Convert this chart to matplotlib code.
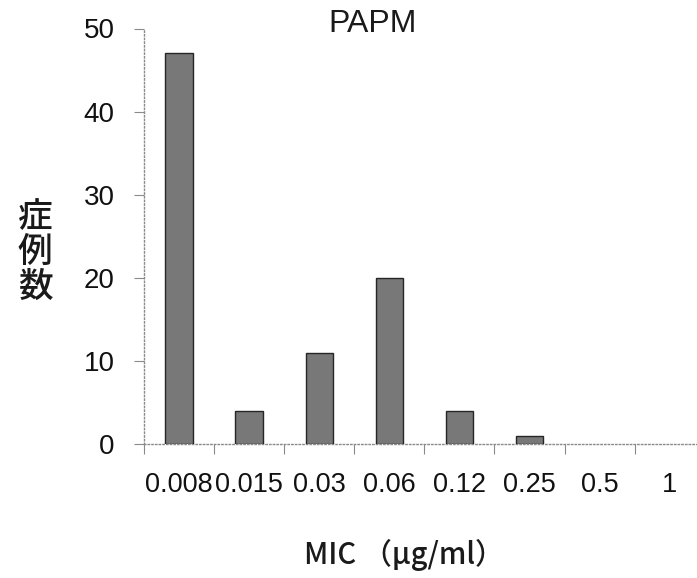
import matplotlib
matplotlib.use("Agg")
import matplotlib.pyplot as plt
import numpy as np
from matplotlib.ticker import MultipleLocator, FixedLocator

mic_labels = ["0.008", "0.015", "0.03", "0.06", "0.12", "0.25", "0.5", "1"]
cases = [47, 4, 11, 20, 4, 1, 0, 0]

sans = ["Liberation Sans", "DejaVu Sans"]
cjk = ["Noto Sans CJK JP", "DejaVu Sans"]

fig = plt.figure(figsize=(6.97, 5.78), dpi=100)
ax = fig.add_axes([144 / 697, 134 / 578, 553 / 697, 415.5 / 578])

x = np.arange(len(cases))
# empty classes get no outline
edges = ["#262626" if c > 0 else "none" for c in cases]
ax.bar(x, cases, width=0.39, color="#787878", edgecolor=edges, linewidth=1.0, zorder=3)

ax.set_xlim(-0.5, 7.39)
ax.set_ylim(0, 50)

# thin dotted axes, no frame on top/right
for side in ["top", "right"]:
    ax.spines[side].set_visible(False)
for side in ["left", "bottom"]:
    ax.spines[side].set_linestyle(":")
    ax.spines[side].set_color("#8a8a8a")
    ax.spines[side].set_linewidth(1.0)

ax.yaxis.set_major_locator(MultipleLocator(10))
ax.tick_params(axis="y", length=7, width=0.8, color="#8a8a8a", pad=14)
for lab in ax.get_yticklabels():
    lab.set_fontfamily(sans)
    lab.set_fontsize(20)
    lab.set_color("#111111")

ax.set_xticks(x)
ax.set_xticklabels(mic_labels, fontfamily=sans, fontsize=19.5, color="#111111")
ax.tick_params(axis="x", which="major", length=0, pad=20)
ax.xaxis.set_minor_locator(FixedLocator(np.arange(-0.5, 7.0, 1.0)))
ax.tick_params(axis="x", which="minor", length=7, width=0.8, color="#8a8a8a")

fig.text(373 / 697, 1 - 24 / 578, "PAPM", ha="center", va="center",
         fontsize=23, fontfamily=sans, color="#1a1a1a")
fig.text(35 / 697, 1 - 252 / 578, "症\n例\n数", ha="center", va="center",
         fontsize=25, fontfamily=cjk, fontweight="medium", linespacing=0.97, color="#1a1a1a")
fig.text(404 / 697, 1 - 555 / 578, "MIC （μg/ml）", ha="center", va="center",
         fontsize=21, fontfamily=cjk, fontweight="medium", color="#1a1a1a")

fig.savefig("out.png", dpi=100)
